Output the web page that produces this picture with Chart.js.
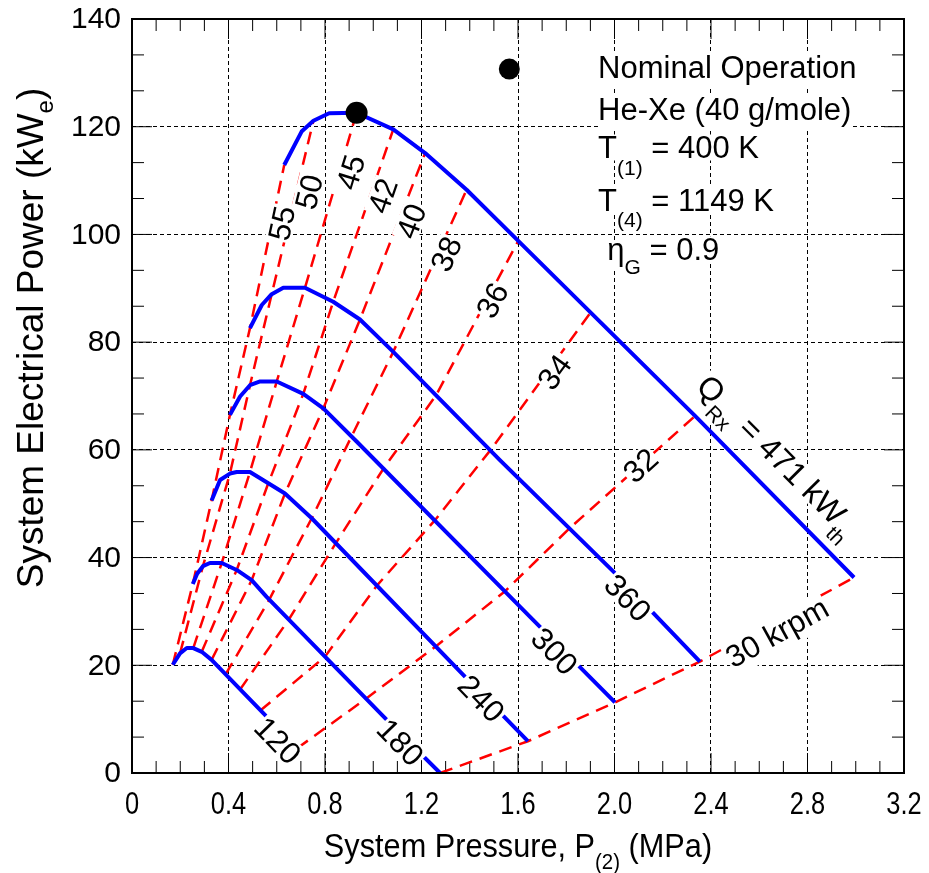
<!DOCTYPE html>
<html lang="en">
<head>
<meta charset="UTF-8">
<title>System Electrical Power vs System Pressure</title>
<script src="https://cdn.jsdelivr.net/npm/chart.js"></script>
<style>
  body { margin: 0; background: #fff; }
  #wrap { width: 929px; height: 873px; }
</style>
</head>
<body>
<div id="wrap"><canvas id="plot" width="929" height="873"></canvas></div>
<script>
// Axis ticks
const xTicks = [0, 0.4, 0.8, 1.2, 1.6, 2.0, 2.4, 2.8, 3.2];
const xTickLabels = ['0', '0.4', '0.8', '1.2', '1.6', '2.0', '2.4', '2.8', '3.2'];
const yTicks = [0, 20, 40, 60, 80, 100, 120, 140];
const yTickLabels = ['0', '20', '40', '60', '80', '100', '120', '140'];

// Reactor thermal power curves, Q_Rx (kW_th): pressure P (MPa), electric power W (kWe)
const q120P = [0.169, 0.199, 0.227, 0.254, 0.289, 0.330, 0.544, 0.685];
const q120W = [20.1, 22.2, 23.2, 23.2, 22.5, 21.0, 11.1, 4.6];
const q180P = [0.252, 0.270, 0.294, 0.323, 0.372, 0.434, 0.496, 0.558, 1.049, 1.277];
const q180W = [35.1, 37.0, 38.4, 39.0, 39.0, 37.7, 35.8, 32.7, 10.2, 0];
const q240P = [0.330, 0.365, 0.406, 0.434, 0.489, 0.565, 0.634, 0.745, 1.380, 1.641];
const q240W = [50.6, 54.4, 55.6, 55.9, 55.9, 53.8, 51.9, 47.3, 17.9, 5.9];
const q300P = [0.406, 0.448, 0.489, 0.531, 0.600, 0.710, 0.793, 0.930, 1.650, 2.002];
const q300W = [66.5, 69.9, 72.0, 72.7, 72.7, 70.4, 67.7, 61.6, 29.0, 13.1];
const q360P = [0.489, 0.538, 0.579, 0.627, 0.717, 0.834, 0.945, 1.083, 1.525, 2.002, 2.354];
const q360W = [82.6, 86.9, 88.9, 90.1, 90.1, 87.5, 84.2, 78.2, 58.1, 37.1, 20.7];
const q471P = [0.631, 0.703, 0.752, 0.817, 0.931, 1.083, 1.215, 1.387, 1.601, 2.334, 2.993];
const q471W = [112.9, 119.1, 121.1, 122.5, 122.6, 119.5, 115.1, 108.3, 98.8, 66.3, 36.3];

// Constant shaft speed lines (krpm), from Q = 120 up to Q = 471
const n55P = [0.169, 0.252, 0.330, 0.406, 0.489, 0.631];
const n55W = [20.1, 35.1, 50.6, 66.5, 82.6, 112.9];
const n50P = [0.199, 0.294, 0.406, 0.489, 0.579, 0.752];
const n50W = [22.2, 38.4, 55.6, 72.0, 88.9, 121.1];
const n45P = [0.254, 0.372, 0.489, 0.600, 0.717, 0.931];
const n45W = [23.2, 39.0, 55.9, 72.7, 90.1, 122.6];
const n42P = [0.289, 0.434, 0.565, 0.710, 0.834, 1.083];
const n42W = [22.5, 37.7, 53.8, 70.4, 87.5, 119.5];
const n40P = [0.330, 0.496, 0.634, 0.793, 0.945, 1.215];
const n40W = [21.0, 35.8, 51.9, 67.7, 84.2, 115.1];
const n38P = [0.388, 0.569, 0.745, 0.910, 1.083, 1.387];
const n38W = [18.3, 32.2, 47.3, 62.5, 78.2, 108.3];
const n36P = [0.448, 0.650, 0.845, 1.042, 1.260, 1.601];
const n36W = [15.5, 28.5, 42.7, 56.5, 70.1, 98.8];
const n34P = [0.532, 0.800, 1.015, 1.255, 1.485, 1.901];
const n34W = [11.6, 21.6, 34.8, 46.9, 59.9, 85.5];
const n32P = [0.685, 0.970, 1.259, 1.545, 1.813, 2.334];
const n32W = [4.6, 13.8, 23.5, 33.7, 45.4, 66.3];
const n30P = [1.277, 1.641, 2.002, 2.354, 2.993];
const n30W = [0, 5.9, 13.1, 20.7, 36.3];

// Nominal operating points
const dotP = [0.931, 1.564];
const dotW = [122.6, 130.7];

const FONT = '"Liberation Sans", Arial, Helvetica, sans-serif';

function pts(P, W) { return P.map((p, i) => ({ x: p, y: W[i] })); }

const qCurves = [[q120P, q120W], [q180P, q180W], [q240P, q240W], [q300P, q300W], [q360P, q360W], [q471P, q471W]];
const speedLines = [[n55P, n55W], [n50P, n50W], [n45P, n45W], [n42P, n42W], [n40P, n40W],
                    [n38P, n38W], [n36P, n36W], [n34P, n34W], [n32P, n32W], [n30P, n30W]];

const datasets = [];
datasets.push({
    data: pts(dotP, dotW), showLine: false, pointRadius: [11, 10.5],
    pointBackgroundColor: '#000', pointBorderWidth: 0, order: 0
});
qCurves.forEach(c => datasets.push({
    data: pts(c[0], c[1]), showLine: true, borderColor: '#0000ff', borderWidth: 4,
    borderJoinStyle: 'round', pointRadius: 0, tension: 0, order: 1
}));
speedLines.forEach(s => datasets.push({
    data: pts(s[0], s[1]), showLine: true, borderColor: '#ff0000', borderWidth: 2.5,
    borderDash: [13, 8], pointRadius: 0, tension: 0, order: 2
}));

// Labels: text, P, W, angle (deg)
const speedLabels = [
    ['55', 0.618, 102.1, -78], ['50', 0.731, 107.9, -76], ['45', 0.904, 111.6, -73],
    ['42', 1.037, 107.2, -71], ['40', 1.155, 102.5, -69], ['38', 1.300, 96.4, -66],
    ['36', 1.491, 87.8, -62], ['34', 1.749, 74.5, -54], ['32', 2.106, 57.2, -42],
    ['30 krpm', 2.672, 26.2, -29]
];
const qLabels = [
    ['120', 0.606, 6.1, 46], ['180', 1.114, 5.8, 46], ['240', 1.450, 13.9, 46],
    ['300', 1.753, 22.7, 46], ['360', 2.057, 32.6, 46]
];

function layoutRuns(ctx, runs, size) {
    let w = 0;
    const items = runs.map(r => {
        const s = r.size || size;
        ctx.font = s + 'px ' + FONT;
        const m = ctx.measureText(r.t);
        const it = { t: r.t, s: s, dy: r.dy || 0, x: w, asc: m.actualBoundingBoxAscent,
                     desc: m.actualBoundingBoxDescent, l: m.actualBoundingBoxLeft, r: m.actualBoundingBoxRight };
        w += m.width;
        return it;
    });
    return { items: items, w: w };
}

function drawRich(ctx, runs, x, y, angle, size, align, vmid, pass, sx) {
    const L = layoutRuns(ctx, runs, size);
    ctx.save();
    ctx.translate(x, y);
    ctx.rotate(angle * Math.PI / 180);
    if (sx) ctx.scale(sx, 1);
    const x0 = align === 'center' ? -L.w / 2 : 0;
    const base = vmid ? 0.36 * size : 0;
    L.items.forEach(it => {
        const bx = x0 + it.x, by = base + it.dy;
        if (pass === 'bg') {
            if (it.t.trim() === '') return;
            ctx.fillStyle = '#fff';
            ctx.fillRect(bx - it.l - 2, by - it.asc - 2, it.l + it.r + 4, it.asc + it.desc + 4);
        } else {
            ctx.font = it.s + 'px ' + FONT;
            ctx.fillStyle = '#000';
            ctx.textAlign = 'left';
            ctx.textBaseline = 'alphabetic';
            ctx.fillText(it.t, bx, by);
        }
    });
    ctx.restore();
}

const decor = {
    id: 'decor',
    beforeDatasetsDraw(chart) {
        const ctx = chart.ctx, a = chart.chartArea, xs = chart.scales.x, ys = chart.scales.y;
        ctx.save();
        ctx.strokeStyle = '#000';
        ctx.lineWidth = 1;
        ctx.beginPath();
        // inward ticks: x every 0.1, y every 20/3
        for (let i = 0; i < xTicks.length; i++) {
            const px = xs.getPixelForValue(xTicks[i]);
            ctx.moveTo(px, a.bottom); ctx.lineTo(px, a.bottom - 20);
            ctx.moveTo(px, a.top); ctx.lineTo(px, a.top + 20);
            if (i < xTicks.length - 1) {
                for (let k = 1; k < 4; k++) {
                    const m = xs.getPixelForValue(xTicks[i] + (xTicks[i + 1] - xTicks[i]) * k / 4);
                    ctx.moveTo(m, a.bottom); ctx.lineTo(m, a.bottom - 12);
                    ctx.moveTo(m, a.top); ctx.lineTo(m, a.top + 12);
                }
            }
        }
        for (let i = 0; i < yTicks.length; i++) {
            const py = ys.getPixelForValue(yTicks[i]);
            ctx.moveTo(a.left, py); ctx.lineTo(a.left + 20, py);
            ctx.moveTo(a.right, py); ctx.lineTo(a.right - 20, py);
            if (i < yTicks.length - 1) {
                for (let k = 1; k < 3; k++) {
                    const m = ys.getPixelForValue(yTicks[i] + (yTicks[i + 1] - yTicks[i]) * k / 3);
                    ctx.moveTo(a.left, m); ctx.lineTo(a.left + 12, m);
                    ctx.moveTo(a.right, m); ctx.lineTo(a.right - 12, m);
                }
            }
        }
        ctx.stroke();
        ctx.restore();
    },
    afterDatasetsDraw(chart) {
        const ctx = chart.ctx, a = chart.chartArea, xs = chart.scales.x, ys = chart.scales.y;
        const X = v => xs.getPixelForValue(v), Y = v => ys.getPixelForValue(v);
        const items = [];
        speedLabels.forEach(l => items.push({ runs: [{ t: l[0] }], x: X(l[1]), y: Y(l[2]), ang: l[3], size: 31, align: 'center', vmid: true }));
        qLabels.forEach(l => items.push({ runs: [{ t: l[0] }], x: X(l[1]), y: Y(l[2]), ang: l[3], size: 31, align: 'center', vmid: true }));
        items.push({ runs: [{ t: 'Q' }, { t: 'Rx', size: 21, dy: 12 }, { t: ' = 471 kW' }, { t: 'th', size: 21, dy: 12 }],
                     x: X(2.366), y: Y(73.0), ang: 45, size: 32, align: 'left', vmid: true });
        // info block
        const bx = X(1.932);
        items.push({ runs: [{ t: 'Nominal Operation' }], x: bx, y: Y(129.0), ang: 0, size: 31, align: 'left' });
        items.push({ runs: [{ t: 'He-Xe (40 g/mole)' }], x: bx, y: Y(121.2), ang: 0, size: 31, align: 'left' });
        items.push({ runs: [{ t: 'T' }, { t: '(1)', size: 21, dy: 17 }, { t: ' = 400 K' }], x: bx, y: Y(114.1), ang: 0, size: 31, align: 'left' });
        items.push({ runs: [{ t: 'T' }, { t: '(4)', size: 21, dy: 16 }, { t: ' = 1149 K' }], x: bx, y: Y(104.4), ang: 0, size: 31, align: 'left' });
        items.push({ runs: [{ t: '\u03b7' }, { t: 'G', size: 21, dy: 14 }, { t: ' = 0.9' }], x: X(1.970), y: Y(95.2), ang: 0, size: 31, align: 'left' });

        items.forEach(it => drawRich(ctx, it.runs, it.x, it.y, it.ang, it.size, it.align, it.vmid, 'bg'));
        items.forEach(it => drawRich(ctx, it.runs, it.x, it.y, it.ang, it.size, it.align, it.vmid, 'text'));

        // frame
        ctx.save();
        ctx.strokeStyle = '#000';
        ctx.lineWidth = 2;
        ctx.strokeRect(a.left, a.top, a.right - a.left, a.bottom - a.top);
        ctx.restore();

        // tick labels, placed by the scales
        xs.ticks.forEach((t, i) => drawRich(ctx, [{ t: xTickLabels[i] }], xs.getPixelForValue(t.value), 803, 0, 31, 'center', true, 'text', 0.82));
        ys.ticks.forEach((t, i) => {
            ctx.save();
            ctx.font = '30px ' + FONT;
            ctx.fillStyle = '#000';
            ctx.textAlign = 'right';
            ctx.textBaseline = 'middle';
            ctx.fillText(yTickLabels[i], a.left - 11, ys.getPixelForValue(t.value) + 1);
            ctx.restore();
        });

        // axis titles
        drawRich(ctx, [{ t: 'System Pressure, P' }, { t: '(2)', size: 22, dy: 12 }, { t: ' (MPa)' }],
                 (a.left + a.right) / 2, 857, 0, 33, 'center', false, 'text', 0.93);
        drawRich(ctx, [{ t: 'System Electrical Power (kW' }, { t: 'e', size: 24, dy: 10 }, { t: ')' }],
                 30, 338, -90, 37, 'center', true, 'text');
    }
};

Chart.defaults.color = '#000';
Chart.defaults.font.family = FONT;

new Chart(document.getElementById('plot'), {
    type: 'scatter',
    data: { datasets: datasets },
    options: {
        responsive: false,
        animation: false,
        events: [],
        layout: { padding: { top: 19, right: 25, left: 0, bottom: 0 } },
        plugins: { legend: { display: false }, tooltip: { enabled: false } },
        scales: {
            x: {
                type: 'linear', min: 0, max: 3.2,
                afterBuildTicks: s => { s.ticks = xTicks.map(v => ({ value: v })); },
                afterFit: s => { s.height = 100; },
                grid: { color: '#000', lineWidth: 1, drawTicks: false },
                border: { display: false, dash: [4, 3] },
                ticks: { display: false }
            },
            y: {
                type: 'linear', min: 0, max: 140,
                afterBuildTicks: s => { s.ticks = yTicks.map(v => ({ value: v })); },
                afterFit: s => { s.width = 132; },
                grid: { color: '#000', lineWidth: 1, drawTicks: false },
                border: { display: false, dash: [4, 3] },
                ticks: { display: false }
            }
        }
    },
    plugins: [decor]
});
</script>
</body>
</html>
